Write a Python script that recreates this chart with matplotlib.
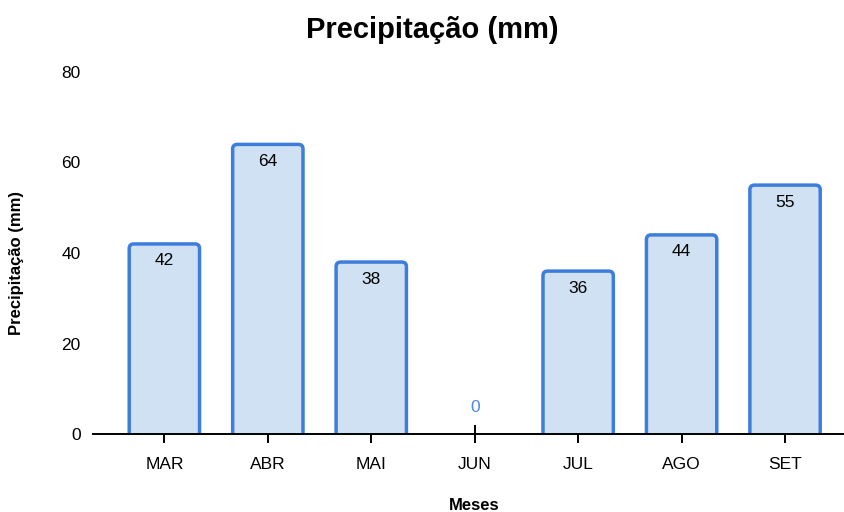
#!/usr/bin/env python3
"""Monthly precipitation bar chart (rounded tops)."""
import matplotlib
matplotlib.use('Agg')
import matplotlib.pyplot as plt
from matplotlib.patches import FancyBboxPatch

months = ['MAR', 'ABR', 'MAI', 'JUN', 'JUL', 'AGO', 'SET']
precip = [42, 64, 38, 0, 36, 44, 55]
y_ticks = [0, 20, 40, 60, 80]

FILL = '#cfe1f2'
EDGE = '#3d7ddb'
LABEL_ZERO = '#4a88ee'

plt.rcParams['font.family'] = ['Liberation Sans', 'DejaVu Sans']

fig = plt.figure(figsize=(8.44, 5.12), dpi=100)
ax = fig.add_axes([93 / 844, 78 / 512, 1 - 93 / 844, 362 / 512])

ax.set_xlim(-0.69, 6.57)
ax.set_ylim(0, 80)

w = 0.68
rx = 0.045
ry = 1.0
for i, v in enumerate(precip):
    if v > 0:
        p = FancyBboxPatch((i - w / 2, -ry * 2), w, v + ry * 2,
                           boxstyle=f'round,pad=0,rounding_size={rx}',
                           mutation_aspect=ry / rx,
                           facecolor=FILL, edgecolor=EDGE, linewidth=2.5,
                           clip_on=True, zorder=2)
        ax.add_patch(p)
        ax.annotate(str(v), (i, v), xytext=(0, -17), textcoords='offset pixels',
                    ha='center', va='center', fontsize=12.5, color='black', zorder=3)
    else:
        ax.annotate(str(v), (i, v), xytext=(0, 27), textcoords='offset pixels',
                    ha='center', va='center', fontsize=12.5, color=LABEL_ZERO, zorder=3)

ax.set_xticks(range(len(months)))
ax.set_xticklabels(months, fontsize=12.5)
ax.set_yticks(y_ticks)
ax.set_yticklabels([str(t) for t in y_ticks], fontsize=12.5)

for s in ['top', 'right', 'left']:
    ax.spines[s].set_visible(False)
ax.spines['bottom'].set_linewidth(1.4)
ax.spines['bottom'].set_zorder(4)
ax.tick_params(axis='x', direction='inout', length=13, width=1.4, pad=10)
ax.tick_params(axis='y', length=0, pad=9)

# axis titles placed in figure pixels to match the reference layout
fig.text(474 / 844, 1 - 505 / 512, 'Meses', fontsize=12, fontweight='bold',
         ha='center', va='center')
fig.text(17 / 844, 1 - 263 / 512, 'Precipitação (mm)', fontsize=12, fontweight='bold',
         ha='center', va='center', rotation=90)
fig.text(432 / 844, 1 - 30 / 512, 'Precipitação (mm)', fontsize=21, fontweight='bold',
         ha='center', va='center')

fig.savefig('out.png', dpi=100)
